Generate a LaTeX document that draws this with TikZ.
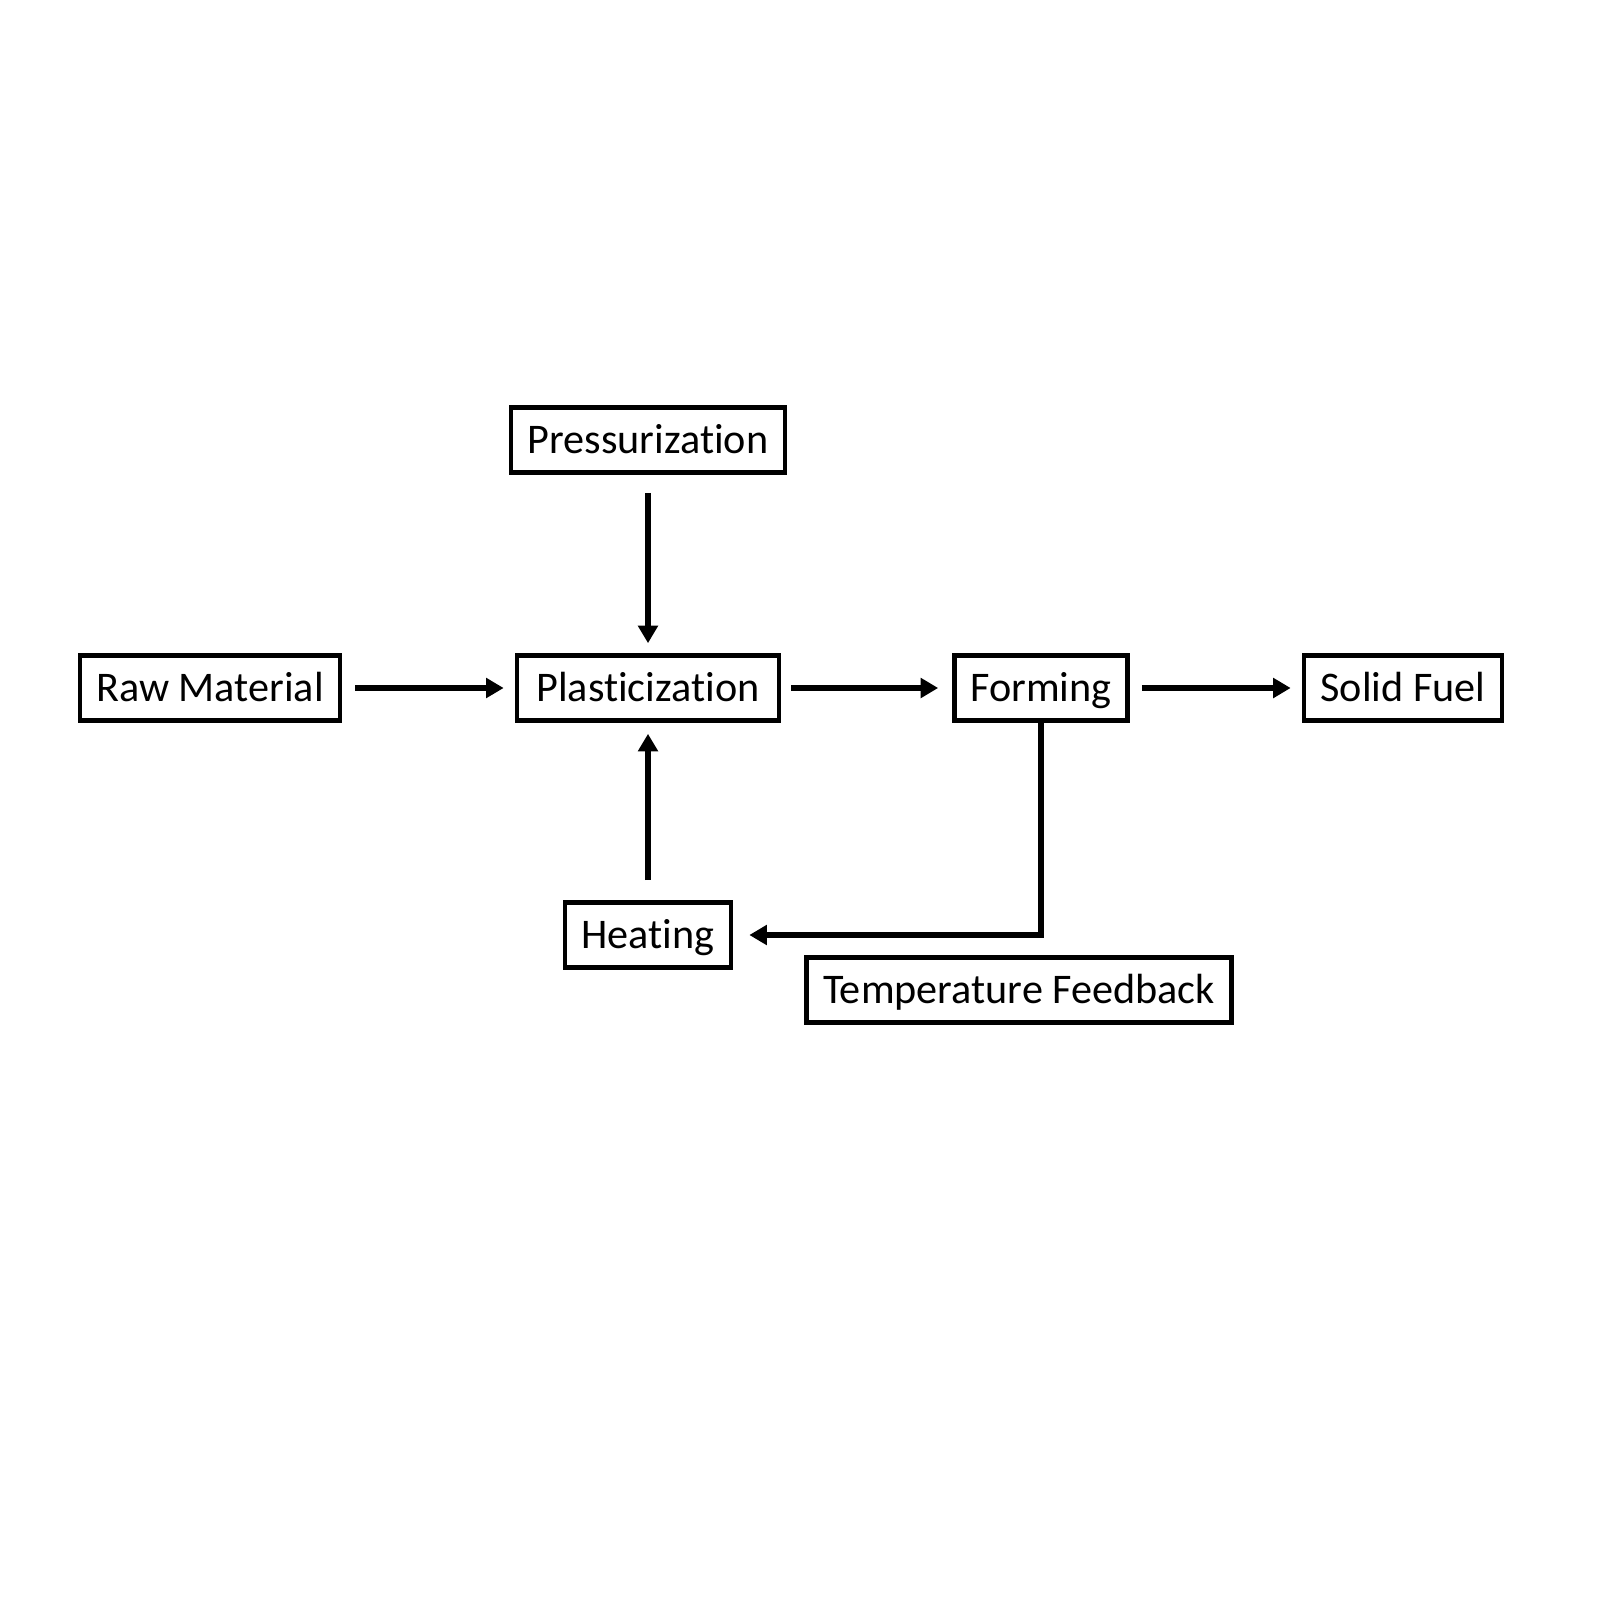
\documentclass[tikz,border=0pt]{standalone}
\usepackage{fontspec}
\setmainfont{Carlito}[Ligatures=NoCommon]
\usetikzlibrary{arrows.meta, positioning}

\begin{document}
\begin{tikzpicture}[
                    x=0.01cm, y=-0.01cm,
                    stage/.style={draw, line width=1.3pt, minimum height=0.65cm, inner sep=0pt,
                                  text height=0.373cm, text depth=0.1cm, font=\fontsize{12}{14}\selectfont},
                    flow/.style={line width=1.5pt, -{Triangle[length=5pt, width=5.5pt]}}
                ]
                \useasboundingbox (0,0) rectangle (1600,1600);
                \node[stage, minimum width=2.74cm] (press) at (648,440) {Pressurization};
                \node[stage, minimum width=2.60cm] (raw) at (210,688) {Raw Material};
                \node[stage, minimum width=2.62cm] (plast) at (648,688) {Plasticization};
                \node[stage, minimum width=1.73cm] (form) at (1041,688) {Forming};
                \node[stage, minimum width=1.98cm] (fuel) at (1403,688) {Solid Fuel};
                \node[stage, minimum width=1.66cm] (heat) at (648,935) {Heating};
                \node[stage, minimum width=4.25cm] (tfb) at (1019,990) {Temperature Feedback};

                \draw[flow, shorten <=0.13cm, shorten >=0.11cm] (raw) -- (plast);
                \draw[flow, shorten <=0.18cm, shorten >=0.10cm] (press) -- (plast);
                \draw[flow, shorten <=0.10cm, shorten >=0.14cm] (plast) -- (form);
                \draw[flow, shorten <=0.12cm, shorten >=0.11cm] (form) -- (fuel);
                \draw[flow, shorten <=0.20cm, shorten >=0.11cm] (heat) -- (plast);
                % feedback loop back to the heater
                \draw[flow, shorten >=0.16cm] (form.south) |- (heat.east);
            \end{tikzpicture}
\end{document}
